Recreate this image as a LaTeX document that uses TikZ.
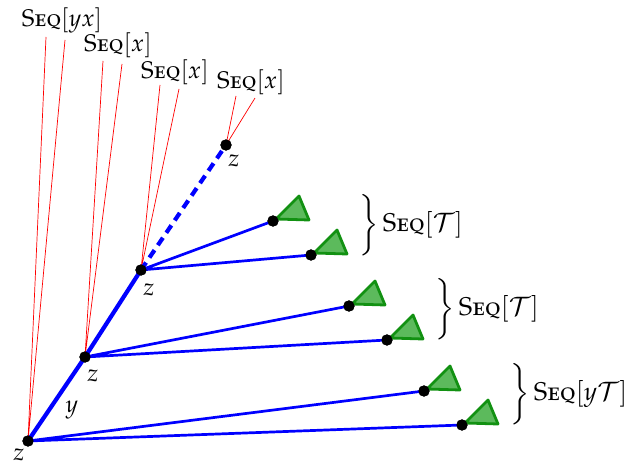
\documentclass[tikz,border=0pt]{standalone}
\usepackage[T1]{fontenc}
\usepackage[sc]{mathpazo}
\newcommand{\Sq}{\textsc{Seq}}
\begin{document}
\begin{tikzpicture}[x=0.5pt,y=-0.5pt,
  tdot/.style={circle,fill=black,inner sep=0pt,minimum size=5.6pt},
  spine/.style={blue,line width=2.1pt},
  branch/.style={blue,line width=1.35pt},
  redl/.style={red,line width=0.35pt},
  tri/.style={fill={rgb,255:red,92;green,186;blue,92},draw={rgb,255:red,18;green,145;blue,18},line width=1.4pt,line join=round},
  toplab/.style={font=\large,inner sep=0pt},
  zlab/.style={font=\large,inner sep=0pt},
  brlab/.style={anchor=west,inner sep=0pt,font=\fontsize{12.8}{15}\selectfont}]
\useasboundingbox (0,0) rectangle (634,466);
% nodes
\node[tdot] (z0) at (28,441) {};
\node[tdot] (z1) at (85,357) {};
\node[tdot] (z2) at (141,270) {};
\node[tdot] (z3) at (226,145) {};
\node[tdot] (a1) at (273,221) {};
\node[tdot] (a2) at (311,255) {};
\node[tdot] (b1) at (349,306) {};
\node[tdot] (b2) at (387,340) {};
\node[tdot] (c1) at (424,391) {};
\node[tdot] (c2) at (462,425) {};
% red end points and labels
\coordinate (r0a) at (46,37); \coordinate (r0b) at (65,40);
\coordinate (r1a) at (103,61); \coordinate (r1b) at (122,64);
\coordinate (r2a) at (160,85); \coordinate (r2b) at (179,89);
\coordinate (r3a) at (236,96); \coordinate (r3b) at (255,98);
\node[toplab] (t0) at (62,20) {\Sq$[yx]$};
\node[toplab] (t1) at (118,45) {\Sq$[x]$};
\node[toplab] (t2) at (175,72) {\Sq$[x]$};
\node[toplab] (t3) at (251,82) {\Sq$[x]$};
\draw[redl] (z0.center) -- (r0a) (z0.center) -- (r0b);
\draw[redl] (z1.center) -- (r1a) (z1.center) -- (r1b);
\draw[redl] (z2.center) -- (r2a) (z2.center) -- (r2b);
\draw[redl] (z3.center) -- (r3a) (z3.center) -- (r3b);
% blue
\draw[spine] (z0.center) -- (z1.center) -- (z2.center);
\draw[spine,dash pattern=on 4.5pt off 3pt] (z2.center) -- (z3.center);
\draw[branch] (z2.center) -- (a1.center) (z2.center) -- (a2.center);
\draw[branch] (z1.center) -- (b1.center) (z1.center) -- (b2.center);
\draw[branch] (z0.center) -- (c1.center) (z0.center) -- (c2.center);
% triangles
\foreach \n in {a1,a2,b1,b2,c1,c2}{
  \draw[tri,shift={(\n)}] (3,-2) -- (26,-25) -- (36,-1) -- cycle;
}
% dots on top
\foreach \n in {z0,z1,z2,z3,a1,a2,b1,b2,c1,c2}{
  \fill (\n) circle (2.8pt);
}
% labels
\node[zlab] (lz0) at (19,455) {$z$};
\node[zlab] (lz1) at (93,376) {$z$};
\node[zlab] (lz2) at (149,290) {$z$};
\node[zlab] (lz3) at (234,161) {$z$};
\node[zlab] (ly) at (72,410) {$y$};
\node[brlab] (s1) at (356,226) {$\left.\rule[-13pt]{0pt}{26pt}\right\}$\,\Sq$[\mathcal{T}]$};
\node[brlab] (s2) at (432,310) {$\left.\rule[-13pt]{0pt}{26pt}\right\}$\,\Sq$[\mathcal{T}]$};
\node[brlab] (s3) at (507,395) {$\left.\rule[-13pt]{0pt}{26pt}\right\}$\,\Sq$[y\mathcal{T}]$};
\end{tikzpicture}
\end{document}
